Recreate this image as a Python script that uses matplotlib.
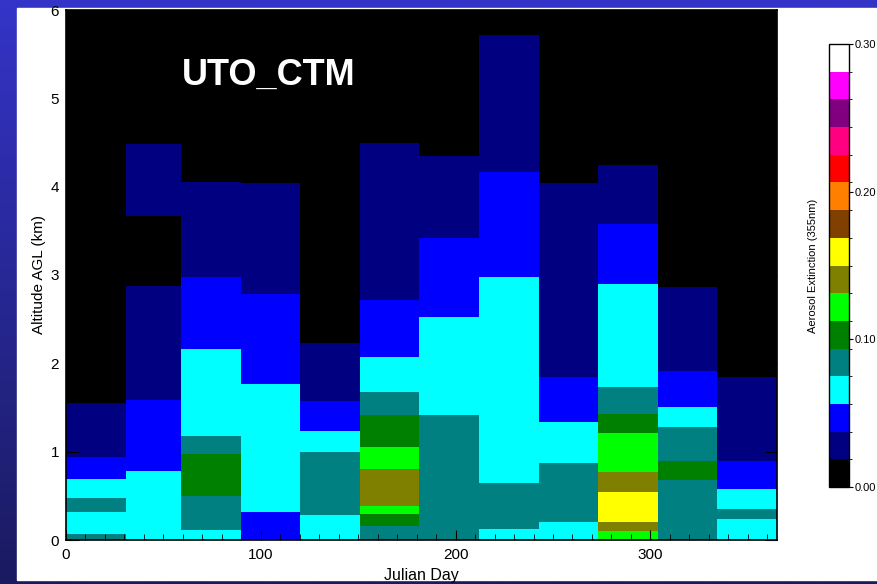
import numpy as np
import matplotlib
matplotlib.use("Agg")
import matplotlib.pyplot as plt
from matplotlib.colors import ListedColormap, BoundaryNorm
from matplotlib.cm import ScalarMappable
from matplotlib.ticker import MultipleLocator

plt.rcParams["font.family"] = ["Liberation Sans", "DejaVu Sans"]

# === DATA ===
month_start = [0, 31, 59, 90, 120, 151, 181, 212, 243, 273, 304, 334]
month_end = [31, 59, 90, 120, 151, 181, 212, 243, 273, 304, 334, 365]

# layer tops (km, bottom -> top) and aerosol extinction (355nm) per month
layer_tops = [
    [0.07, 0.32, 0.48, 0.69, 0.94, 1.55],
    [0.78, 1.59, 2.88, 3.67, 4.48],
    [0.11, 0.50, 0.97, 1.18, 2.16, 2.98, 4.05],
    [0.32, 1.77, 2.78, 4.04],
    [0.28, 1.00, 1.23, 1.57, 2.23],
    [0.16, 0.30, 0.38, 0.80, 1.05, 1.42, 1.67, 2.07, 2.72, 4.50],
    [1.42, 2.53, 3.42, 4.35],
    [0.13, 0.65, 2.98, 4.17, 5.72],
    [0.20, 0.87, 1.34, 1.85, 4.04],
    [0.10, 0.20, 0.54, 0.77, 1.21, 1.43, 1.73, 2.90, 3.58, 4.25],
    [0.68, 0.90, 1.28, 1.51, 1.91, 2.86],
    [0.24, 0.35, 0.58, 0.90, 1.85],
]
layer_ext = [
    [0.084, 0.066, 0.084, 0.066, 0.047, 0.028],
    [0.066, 0.047, 0.028, 0.009, 0.028],
    [0.066, 0.084, 0.103, 0.084, 0.066, 0.047, 0.028],
    [0.047, 0.066, 0.047, 0.028],
    [0.066, 0.084, 0.066, 0.047, 0.028],
    [0.084, 0.103, 0.122, 0.141, 0.122, 0.103, 0.084, 0.066, 0.047, 0.028],
    [0.084, 0.066, 0.047, 0.028],
    [0.066, 0.084, 0.066, 0.047, 0.028],
    [0.066, 0.084, 0.066, 0.047, 0.028],
    [0.122, 0.141, 0.159, 0.141, 0.122, 0.103, 0.084, 0.066, 0.047, 0.028],
    [0.084, 0.103, 0.084, 0.066, 0.047, 0.028],
    [0.066, 0.084, 0.066, 0.047, 0.028],
]

cbar_colors = ["#000000", "#000080", "#0000FF", "#00FFFF", "#008080", "#008000",
               "#00FF00", "#808000", "#FFFF00", "#804000", "#FF8000", "#FF0000",
               "#FF0080", "#800080", "#FF00FF", "#FFFFFF"]
cbar_ticks = [0.0, 0.1, 0.2, 0.3]

cmap = ListedColormap(cbar_colors)
norm = BoundaryNorm(np.linspace(0, 0.30, len(cbar_colors) + 1), cmap.N)

fig = plt.figure(figsize=(8.77, 5.84), dpi=100)

# slide background: blue gradient + white panel
bg = fig.add_axes([0, 0, 1, 1], zorder=-10)
grad = np.linspace(0, 1, 256)[:, None]
top_c = np.array([0x34, 0x34, 0xC8]) / 255
bot_c = np.array([0x1A, 0x1A, 0x60]) / 255
img = top_c[None, None, :] * (1 - grad[:, :, None]) + bot_c[None, None, :] * grad[:, :, None]
bg.imshow(img, aspect="auto", extent=[0, 1, 0, 1])
bg.add_patch(plt.Rectangle((17 / 877, 4 / 584), 1, 572 / 584, color="white"))
bg.set_xlim(0, 1)
bg.set_ylim(0, 1)
bg.axis("off")

ax = fig.add_axes([66 / 877, 44 / 584, 711 / 877, 530 / 584])
ax.set_facecolor("black")

for x0, x1, tops, ext in zip(month_start, month_end, layer_tops, layer_ext):
    bottoms = [0.0] + tops[:-1]
    for b, t, e in zip(bottoms, tops, ext):
        ax.bar(x0, t - b, bottom=b, width=x1 - x0, align="edge",
               color=cmap(norm(e)), linewidth=0)

ax.set_xlim(0, 365)
ax.set_ylim(0, 6)
ax.xaxis.set_major_locator(MultipleLocator(100))
ax.xaxis.set_minor_locator(MultipleLocator(10))
ax.yaxis.set_major_locator(MultipleLocator(1))
ax.tick_params(axis="both", which="both", direction="in", top=True, right=True,
               labelsize=11, color="black")
ax.tick_params(axis="x", which="major", length=7, pad=6)
ax.tick_params(axis="x", which="minor", length=4)
ax.tick_params(axis="y", which="major", length=9, pad=5)
ax.set_xlabel("Julian Day", fontsize=11.5, labelpad=4)
ax.set_ylabel("Altitude AGL (km)", fontsize=11, labelpad=3)
for s in ax.spines.values():
    s.set_linewidth(1.2)

ax.text(0.285, 0.877, "UTO_CTM", transform=ax.transAxes, color="white",
        fontsize=26, fontweight="bold", ha="center", va="center")

cax = fig.add_axes([829 / 877, 97 / 584, 20 / 877, 443 / 584])
cb = fig.colorbar(ScalarMappable(norm=norm, cmap=cmap), cax=cax,
                  ticks=cbar_ticks, format="%.2f")
cb.outline.set_linewidth(1)
cax.tick_params(labelsize=8, length=3, width=0.8, pad=1)
cax.yaxis.set_label_position("left")
cb.set_label("Aerosol Extinction (355nm)", fontsize=8, labelpad=8)

fig.savefig("out.png", dpi=100)
